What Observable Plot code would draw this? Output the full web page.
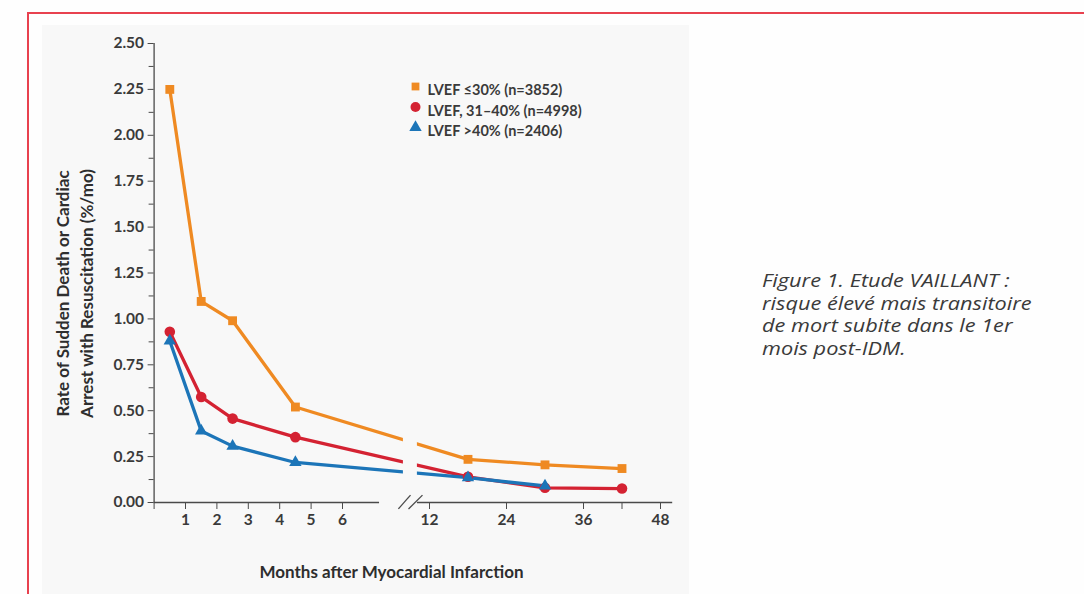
<!DOCTYPE html>
<html>
<head>
<meta charset="utf-8">
<script src="https://cdn.jsdelivr.net/npm/d3@7"></script>
<script src="https://cdn.jsdelivr.net/npm/@observablehq/plot@0.6"></script>
<style>
  html, body { margin: 0; padding: 0; background: #fefefe; }
  body { width: 1084px; height: 594px; overflow: hidden; position: relative; }
  #frame { position: absolute; left: 27px; top: 12px; width: 1200px; height: 700px; border-left: 2px solid #e8414f; border-top: 2px solid #e8414f; box-sizing: border-box; }
  #panel { position: absolute; left: 42px; top: 25px; width: 647px; height: 600px; background: #f8f8f8; }
  #panel svg { background: transparent; }
  #caption { position: absolute; left: 762px; top: 269px; font-family: "Open Sans", Lato, sans-serif; font-style: italic; font-weight: 400; font-size: 17.5px; line-height: 22.7px; color: #3a3a3a; white-space: nowrap; transform: scaleX(1.24); transform-origin: left top; }
</style>
</head>
<body>
<div id="frame"></div>
<div id="panel"></div>
<div id="caption"></div>
<script>
// ---- data ----
const months = [0.5, 1.5, 2.5, 4.5, 18, 30, 42];
const lvef30 = [2.25, 1.095, 0.99, 0.52, 0.235, 0.205, 0.185];
const lvef3140 = [0.93, 0.575, 0.457, 0.356, 0.14, 0.08, 0.076];
const lvef40 = [0.88, 0.39, 0.307, 0.218, 0.135, 0.09];
const seriesNames = ["LVEF \u226430% (n=3852)", "LVEF, 31\u201340% (n=4998)", "LVEF >40% (n=2406)"];
const seriesColors = ["#ef8a22", "#d42232", "#1c75b8"];
const seriesSymbols = ["square", "circle", "triangle"];
const yTicks = [0, 0.25, 0.5, 0.75, 1.0, 1.25, 1.5, 1.75, 2.0, 2.25, 2.5];
const yMinor = [0.125, 0.375, 0.625, 0.875, 1.125, 1.375, 1.625, 1.875, 2.125, 2.375];
const xTicks = [0, 1, 2, 3, 4, 5, 6, 12, 24, 36, 42, 48];
const xTickLabels = ["", "1", "2", "3", "4", "5", "6", "12", "24", "36", "", "48"];
const xTitle = "Months after Myocardial Infarction";
const yTitle = "Rate of Sudden Death or Cardiac\nArrest with Resuscitation (%/mo)";
const captionLines = ["Figure 1. Etude VAILLANT :", "risque \u00e9lev\u00e9 mais transitoire", "de mort subite dans le 1er", "mois post-IDM."];
// axis break (in months)
const axisSegments = [{x1: 0, x2: 7.18}, {x1: 10.0, x2: 49.9}];
const breakSlashes = [{x1: 7.78, x2: 8.86}, {x1: 8.53, x2: 10.84}];
const lineGap = {x1: 7.94, x2: 10.0};

const series = [lvef30, lvef3140, lvef40].map((vals, s) =>
  vals.map((v, i) => ({month: months[i], rate: v, s})));

// ---- layout ----
const W = 647, H = 569;
const mL = 111.6, mT = 18, mB = 92, mR = 29;
const font = "Lato, 'Open Sans', sans-serif";

const marks = [];
// axis lines
marks.push(Plot.ruleX([0], {y1: 0, y2: 2.5, stroke: "#4a4a4a", strokeWidth: 1.3}));
marks.push(Plot.ruleY(axisSegments, {y: 0, x1: "x1", x2: "x2", stroke: "#4a4a4a", strokeWidth: 1.3}));
marks.push(Plot.link(breakSlashes, {x1: "x1", x2: "x2", y1: -0.035, y2: 0.04, stroke: "#4a4a4a", strokeWidth: 1.3}));
// axes
marks.push(Plot.axisY({ticks: yTicks, tickFormat: d3.format(".2f"), tickSize: 6, tickPadding: 4, label: null,
  fontSize: 15.5, fontWeight: "bold", fill: "#3a3a3a", stroke: "#4a4a4a"}));
marks.push(Plot.axisY({ticks: yMinor, tickSize: 5, text: null, label: null, stroke: "#4a4a4a"}));
marks.push(Plot.axisX({ticks: xTicks, tickFormat: (d) => xTickLabels[xTicks.indexOf(d)], tickSize: 7, tickPadding: 4, label: null,
  fontSize: 15.5, fontWeight: "bold", fill: "#3a3a3a", stroke: "#4a4a4a"}));
// lines
series.forEach((data, s) => {
  marks.push(Plot.line(data, {x: "month", y: "rate", stroke: seriesColors[s], strokeWidth: 3.3}));
});
// gap in lines at axis break
marks.push(Plot.rect([lineGap], {x1: "x1", x2: "x2", y1: 0.12, y2: 0.45, fill: "#f8f8f8"}));
// markers
series.forEach((data, s) => {
  marks.push(Plot.dot(data, {x: "month", y: "rate", symbol: () => seriesSymbols[s], fill: seriesColors[s],
    r: s === 1 ? 5.3 : (s === 0 ? 5 : 4.6)}));
});
// legend
seriesNames.forEach((name, i) => {
  marks.push(Plot.dot([name], {frameAnchor: "top-left", dx: 261.4, dy: 43 + i * 20.5, symbol: () => seriesSymbols[i],
    fill: seriesColors[i], r: i === 1 ? 5 : (i === 0 ? 4.4 : 4.6)}));
  marks.push(Plot.text([name], {frameAnchor: "top-left", dx: 273.4, dy: 41.5 + i * 20.5, text: d => d, textAnchor: "start",
    fontSize: 14.5, fontWeight: "bold", fill: "#3a3a3a"}));
});
// titles
marks.push(Plot.text([xTitle], {frameAnchor: "bottom-left", dx: 349 - mL, dy: 75, text: d => d, textAnchor: "middle",
  fontSize: 17, fontWeight: "bold", fill: "#2e2e2e"}));
marks.push(Plot.text([yTitle], {frameAnchor: "left", dx: 31 - mL, dy: 20.5, text: d => d, rotate: -90, textAnchor: "middle",
  lineAnchor: "middle", lineHeight: 1.4, fontSize: 17, fontWeight: "bold", fill: "#2e2e2e"}));

const chart = Plot.plot({
  width: W, height: H,
  marginLeft: mL, marginTop: mT, marginBottom: mB, marginRight: mR,
  style: {fontFamily: font, background: "transparent", overflow: "visible"},
  x: {type: "linear", domain: [0, 8, 12, 48], range: [mL, mL + 8 * 31.4, 387, 618]},
  y: {domain: [0, 2.5], range: [H - mB, mT]},
  marks
});
document.getElementById("panel").appendChild(chart);
document.getElementById("caption").innerHTML = captionLines.join("<br>");
</script>
</body>
</html>
